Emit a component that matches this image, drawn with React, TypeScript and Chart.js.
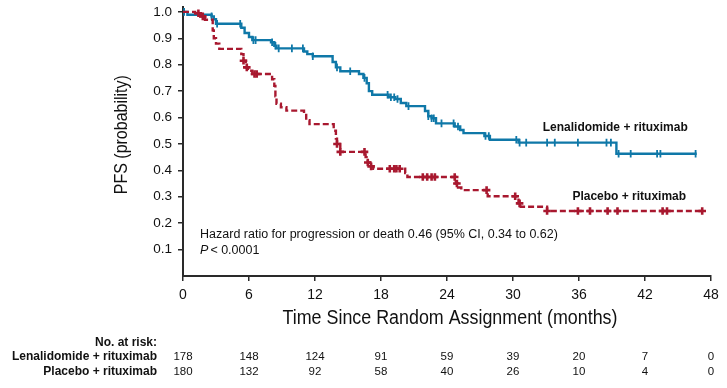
import React, { useEffect, useRef } from "react";
import { Chart, registerables } from "chart.js";

Chart.register(...registerables);

// ---------- data ----------
const X_TICKS = [0, 6, 12, 18, 24, 30, 36, 42, 48];
const Y_TICKS = [0.1, 0.2, 0.3, 0.4, 0.5, 0.6, 0.7, 0.8, 0.9, 1.0];

const SERIES_NAMES = ["Lenalidomide + rituximab", "Placebo + rituximab"];

// Kaplan-Meier step points (time in months, survival after the drop)
const LEN_TIMES = [
  0, 0.4, 2.6, 2.8, 3.0, 5.3, 5.6, 6.0, 6.3, 8.0, 8.3, 8.5, 11.0, 11.3, 11.8,
  13.6, 13.9, 14.3, 16.0, 16.4, 16.7, 16.9, 17.2, 18.7, 19.3, 19.8, 20.3, 22.0,
  22.3, 22.6, 23.0, 24.7, 25.2, 25.5, 27.4, 27.9, 30.5, 39.4, 46.7,
];
const LEN_SURV = [
  1.0, 0.989, 0.983, 0.972, 0.955, 0.94, 0.92, 0.905, 0.893, 0.885, 0.872,
  0.862, 0.85, 0.84, 0.832, 0.81, 0.79, 0.775, 0.765, 0.75, 0.73, 0.70, 0.686,
  0.677, 0.67, 0.655, 0.643, 0.625, 0.605, 0.597, 0.578, 0.566, 0.553, 0.541,
  0.53, 0.516, 0.505, 0.463, 0.463,
];
const PBO_TIMES = [
  0, 1.1, 1.6, 2.0, 2.7, 2.8, 3.0, 3.3, 5.3, 5.5, 5.7, 5.9, 6.3, 8.1, 8.3, 8.4,
  8.5, 8.9, 9.4, 11.0, 11.2, 11.5, 13.7, 13.9, 14.0, 14.3, 16.6, 16.8, 17.0,
  17.3, 20.2, 20.4, 24.8, 25.0, 25.3, 27.7, 30.5, 30.7, 33.1, 47.2,
];
const PBO_SURV = [
  1.0, 0.995, 0.983, 0.97, 0.93, 0.9, 0.88, 0.86, 0.84, 0.815, 0.79, 0.777,
  0.765, 0.745, 0.72, 0.68, 0.652, 0.639, 0.626, 0.61, 0.59, 0.575, 0.55, 0.52,
  0.5, 0.47, 0.45, 0.43, 0.415, 0.406, 0.39, 0.375, 0.35, 0.335, 0.325, 0.302,
  0.275, 0.262, 0.246, 0.246,
];

// censoring times (months)
const LEN_CENSOR = [
  0.1, 2.6, 3.1, 5.2, 6.4, 6.6, 8.1, 8.4, 8.7, 9.9, 10.9, 11.8, 14.0, 15.2,
  16.5, 18.6, 18.9, 19.2, 19.5, 20.5, 22.3, 22.6, 22.8, 23.5, 24.6, 25.0, 27.5,
  27.8, 30.3, 30.6, 31.2, 33.1, 33.8, 35.9, 38.5, 38.9, 39.6, 40.7, 43.1, 43.4,
  46.6,
];
const PBO_CENSOR = [
  1.4, 1.8, 5.5, 5.8, 6.5, 6.7, 14.0, 14.3, 16.5, 16.8, 17.1, 18.8, 19.2, 19.4,
  19.7, 21.8, 22.2, 22.6, 22.9, 24.7, 24.9, 27.6, 30.2, 30.6, 33.1, 35.9, 37.0,
  38.6, 39.5, 43.6, 44.0, 47.2,
];

const LEN_AT_RISK = [178, 148, 124, 91, 59, 39, 20, 7, 0];
const PBO_AT_RISK = [180, 132, 92, 58, 40, 26, 10, 4, 0];

const X_TITLE = "Time Since Random Assignment (months)";
const Y_TITLE = "PFS (probability)";
const HR_TEXT = "Hazard ratio for progression or death 0.46 (95% CI, 0.34 to 0.62)";
const P_TEXT = "< 0.0001";
const RISK_TITLE = "No. at risk:";

// ---------- style ----------
const BLUE = "#0f78a8";
const RED = "#a8182f";
const INK = "#111111";
const AXIS = "#2a2a2a";
const SANS = '"Liberation Sans", Arial, Helvetica, sans-serif';

function survAt(times: number[], surv: number[], t: number): number {
  let v = surv[0];
  for (let i = 0; i < times.length; i++) {
    if (times[i] <= t) v = surv[i];
  }
  return v;
}

const annotationPlugin = {
  id: "kmAnnotations",
  afterDraw(chart: any) {
    const { ctx, scales } = chart;
    const xs = scales.x;
    const ys = scales.y;
    ctx.save();
    ctx.fillStyle = INK;

    // y-axis title
    ctx.save();
    ctx.translate(122, ys.getPixelForValue(0.535));
    ctx.rotate(-Math.PI / 2);
    ctx.font = `18px ${SANS}`;
    ctx.textAlign = "center";
    ctx.textBaseline = "middle";
    ctx.fillText(Y_TITLE, 0, 0, 119);
    ctx.restore();

    // series labels
    ctx.font = `bold 12px ${SANS}`;
    ctx.textAlign = "left";
    ctx.textBaseline = "middle";
    ctx.fillText(SERIES_NAMES[0], xs.getPixelForValue(32.7), ys.getPixelForValue(0.562));
    ctx.fillText(SERIES_NAMES[1], xs.getPixelForValue(35.4), ys.getPixelForValue(0.302));

    // hazard ratio text
    ctx.font = `12.5px ${SANS}`;
    const hx = xs.getPixelForValue(1.55);
    ctx.fillText(HR_TEXT, hx, ys.getPixelForValue(0.158), 358);
    ctx.font = `italic 12.5px ${SANS}`;
    ctx.fillText("P", hx, ys.getPixelForValue(0.098));
    const pw = ctx.measureText("P").width;
    ctx.font = `12.5px ${SANS}`;
    ctx.fillText(P_TEXT, hx + pw + 2, ys.getPixelForValue(0.098));

    // x-axis title
    ctx.font = `19.5px ${SANS}`;
    ctx.textAlign = "center";
    ctx.fillText(X_TITLE, (xs.left + xs.right) / 2 + 3, 319, 335);

    // number at risk table
    ctx.font = `bold 12px ${SANS}`;
    ctx.textAlign = "right";
    ctx.fillText(RISK_TITLE, 157, 343);
    ctx.fillText(SERIES_NAMES[0], 157, 357);
    ctx.fillText(SERIES_NAMES[1], 157, 371.5);
    ctx.font = `11.5px ${SANS}`;
    ctx.textAlign = "center";
    X_TICKS.forEach((t, i) => {
      const px = xs.getPixelForValue(t);
      ctx.fillText(String(LEN_AT_RISK[i]), px, 357);
      ctx.fillText(String(PBO_AT_RISK[i]), px, 371.5);
    });
    ctx.restore();
  },
};

export default function App() {
  const canvasRef = useRef<HTMLCanvasElement | null>(null);

  useEffect(() => {
    document.body.style.margin = "0";
    const canvas = canvasRef.current;
    if (!canvas) return;

    const lenLine = LEN_TIMES.map((t, i) => ({ x: t, y: LEN_SURV[i] }));
    const pboLine = PBO_TIMES.map((t, i) => ({ x: t, y: PBO_SURV[i] }));
    const lenCens = LEN_CENSOR.map((t) => ({ x: t, y: survAt(LEN_TIMES, LEN_SURV, t) }));
    const pboCens = PBO_CENSOR.map((t) => ({ x: t, y: survAt(PBO_TIMES, PBO_SURV, t) }));

    const chart = new Chart(canvas, {
      type: "line",
      data: {
        datasets: [
          {
            label: SERIES_NAMES[1],
            data: pboLine,
            stepped: "before",
            borderColor: RED,
            borderWidth: 2.4,
            borderDash: [6, 3],
            pointRadius: 0,
            fill: false,
          },
          {
            label: SERIES_NAMES[1] + " censored",
            data: pboCens,
            showLine: false,
            pointStyle: "cross",
            pointRadius: 3.8,
            pointBorderWidth: 2.6,
            pointBorderColor: RED,
            pointBackgroundColor: RED,
            borderColor: RED,
          },
          {
            label: SERIES_NAMES[0],
            data: lenLine,
            stepped: "before",
            borderColor: BLUE,
            borderWidth: 2.4,
            pointRadius: 0,
            fill: false,
          },
          {
            label: SERIES_NAMES[0] + " censored",
            data: lenCens,
            showLine: false,
            pointStyle: "line",
            rotation: 90,
            pointRadius: 3.8,
            pointBorderWidth: 1.8,
            pointBorderColor: BLUE,
            pointBackgroundColor: BLUE,
            borderColor: BLUE,
          },
        ],
      },
      options: {
        responsive: false,
        animation: false,
        events: [],
        layout: { padding: { top: 6, right: 16, left: 0, bottom: 0 } },
        plugins: {
          legend: { display: false },
          tooltip: { enabled: false },
          title: { display: false },
        },
        scales: {
          x: {
            type: "linear",
            min: 0,
            max: 48,
            afterBuildTicks: (scale: any) => {
              scale.ticks = X_TICKS.map((v) => ({ value: v }));
            },
            afterFit: (scale: any) => {
              scale.height = 112;
              scale.paddingLeft = 0;
              scale.paddingRight = 0;
            },
            ticks: {
              autoSkip: false,
              maxRotation: 0,
              padding: 6,
              color: INK,
              font: { family: SANS, size: 14 },
              callback: (v: any) => String(v),
            },
            grid: {
              display: true,
              drawOnChartArea: false,
              drawTicks: true,
              tickLength: 5,
              color: AXIS,
              lineWidth: 1.5,
            },
            border: { display: true, color: AXIS, width: 2 },
          },
          y: {
            type: "linear",
            min: 0,
            max: 1.02,
            afterBuildTicks: (scale: any) => {
              scale.ticks = Y_TICKS.map((v) => ({ value: v }));
            },
            afterFit: (scale: any) => {
              scale.width = 183;
              scale.paddingTop = 0;
              scale.paddingBottom = 0;
            },
            ticks: {
              padding: 6,
              color: INK,
              font: { family: SANS, size: 13.5 },
              callback: (v: any) => Number(v).toFixed(1),
            },
            grid: {
              display: true,
              drawOnChartArea: false,
              drawTicks: true,
              tickLength: 5,
              color: AXIS,
              lineWidth: 1.5,
            },
            border: { display: true, color: AXIS, width: 2 },
          },
        },
      },
      plugins: [annotationPlugin],
    });

    return () => {
      chart.destroy();
    };
  }, []);

  return (
    <div style={{ position: "absolute", left: 0, top: 0, width: 727, height: 388, background: "#fff" }}>
      <canvas ref={canvasRef} width={727} height={388} style={{ display: "block", width: 727, height: 388 }} />
    </div>
  );
}
